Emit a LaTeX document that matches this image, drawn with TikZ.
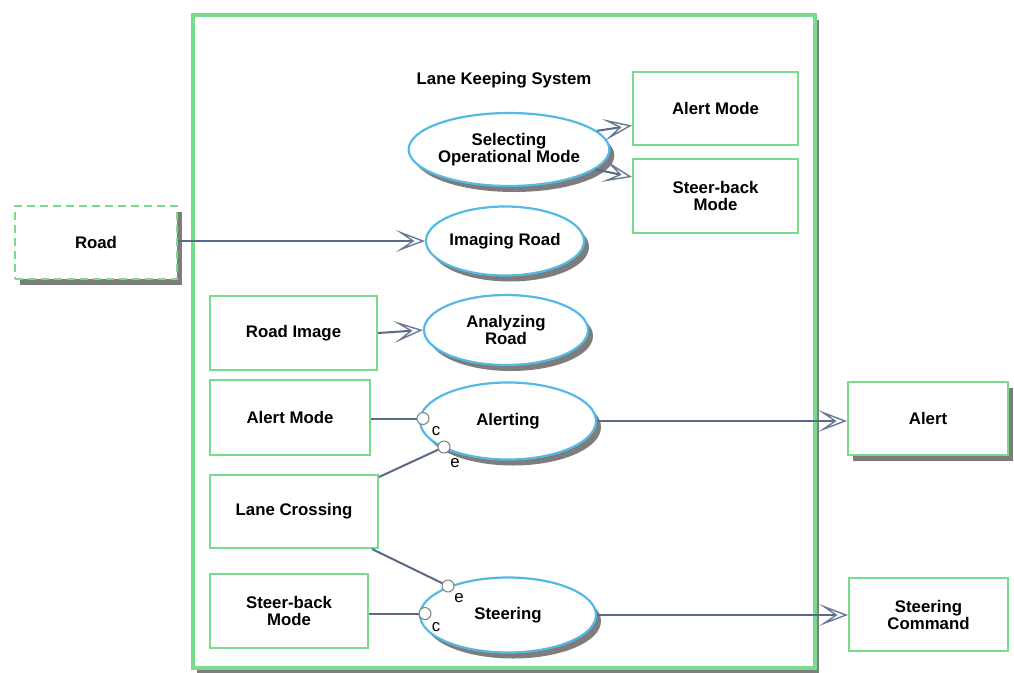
\documentclass[tikz,border=0pt]{standalone}
\usepackage{fontspec}
\setmainfont{Liberation Sans}
\usetikzlibrary{shapes.geometric,shadows,arrows.meta}
\definecolor{grn}{RGB}{120,220,140}
\definecolor{ucblue}{RGB}{85,185,230}
\definecolor{lnc}{RGB}{90,105,135}
\definecolor{arrc}{RGB}{105,120,150}
\definecolor{shd}{RGB}{125,125,125}
\begin{document}
\begin{tikzpicture}[x=1pt,y=-1pt,
  txt/.style={font=\bfseries\fontsize{16.8}{17}\selectfont, align=center},
  box/.style={txt, draw=grn, line width=2pt, fill=white, rectangle, inner sep=0pt},
  uc/.style={txt, draw=ucblue, line width=2.2pt, fill=white, ellipse, inner sep=0pt,
    drop shadow={shadow xshift=5pt, shadow yshift=-6pt, fill=shd, opacity=1}},
  boxshadow/.style={drop shadow={shadow xshift=5pt, shadow yshift=-6pt, fill=shd, opacity=1}},
  conn/.style={draw=lnc, line width=2pt},
  flow/.style={conn, -{Stealth[length=29pt,width=22pt,inset=16pt,line width=1.4pt,color=arrc,fill=white]}},
  port/.style={circle, draw=gray, fill=white, line width=1pt, minimum size=12pt, inner sep=0pt},
  plab/.style={font=\fontsize{16.8}{17}\selectfont, inner sep=0pt}]
\useasboundingbox (0,0) rectangle (1014,672);
\fill[white] (0,0) rectangle (1014,672);

% system boundary
\node[draw=grn, line width=4pt, fill=white, minimum width=622pt, minimum height=653pt, inner sep=0pt,
  drop shadow={shadow xshift=4pt, shadow yshift=-5pt, fill=shd, opacity=1}] (sys) at (504,341.5) {};
\node[txt] (title) at (504,80) {Lane Keeping System};

% external boxes
\node[box, dashed, dash pattern=on 8pt off 5pt, boxshadow, minimum width=162pt, minimum height=73pt] (road) at (96,242) {Road};
\node[box, boxshadow, minimum width=160pt, minimum height=73pt] (alert) at (928,418.5) {Alert};
\node[box, minimum width=159pt, minimum height=73pt] (steerCmd) at (928.5,614.5) {Steering\\Command};

% inner boxes
\node[box, minimum width=165pt, minimum height=73pt] (alertM1) at (715.5,108.5) {Alert Mode};
\node[box, minimum width=165pt, minimum height=74pt] (steerM1) at (715.5,196) {Steer-back\\Mode};
\node[box, minimum width=167pt, minimum height=74pt] (roadImg) at (293.5,333) {Road Image};
\node[box, minimum width=160pt, minimum height=75pt] (alertM2) at (290,417.5) {Alert Mode};
\node[box, minimum width=168pt, minimum height=73pt] (laneX) at (294,511.5) {Lane Crossing};
\node[box, minimum width=158pt, minimum height=74pt] (steerM2) at (289,611) {Steer-back\\Mode};

% use cases
\node[uc, minimum width=185pt, minimum height=73pt] (selOp) at (509,149.5) {Selecting\\Operational Mode};
\node[uc, minimum width=158pt, minimum height=69pt] (imgRoad) at (505,241) {Imaging Road};
\node[uc, minimum width=164pt, minimum height=70pt] (anaRoad) at (506,330) {Analyzing\\Road};
\node[uc, minimum width=176pt, minimum height=77pt] (alerting) at (508,421) {Alerting};
\node[uc, minimum width=176pt, minimum height=75pt] (steering) at (508,615) {Steering};

% flows
\draw[flow] (selOp.12) -- ([yshift=-17pt]alertM1.west);
\draw[flow] (selOp.-13) -- ([yshift=19pt]steerM1.west);
\draw[flow] (road.east |- imgRoad.west) -- (imgRoad.west);
\draw[flow] (roadImg.east) -- (anaRoad.west);
\draw[flow] (alerting.east) -- (alerting.east -| alert.west);
\draw[flow] (steering.east) -- (steering.east -| steerCmd.west);

% ports
\node[port] (cA) at (423,418.5) {};
\node[port] (eA) at (444,447) {};
\node[port] (eS) at (448,586) {};
\node[port] (cS) at (425,613.5) {};
\draw[conn] (alertM2.east |- cA) -- (cA);
\draw[conn] ([yshift=-3pt]laneX.north east) -- (eA);
\draw[conn] ([xshift=-7pt]laneX.south east) -- (eS);
\draw[conn] (steerM2.east |- cS) -- (cS);
\node[plab] (lcA) at (436,431) {c};
\node[plab] (leA) at (455,463) {e};
\node[plab] (leS) at (459,598) {e};
\node[plab] (lcS) at (436,627) {c};
\end{tikzpicture}
\end{document}
